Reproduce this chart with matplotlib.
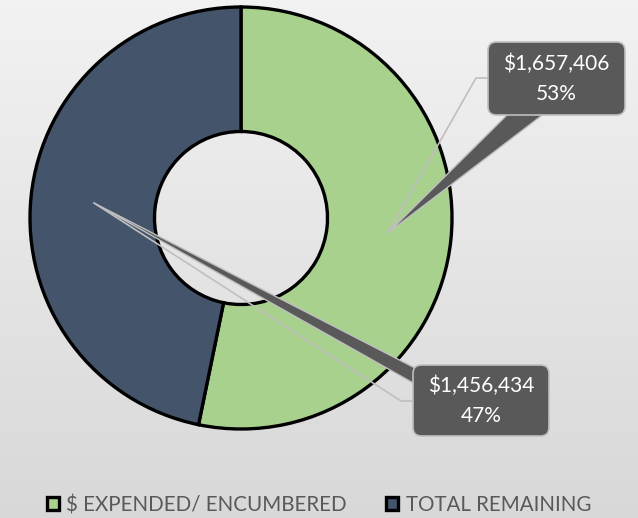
import numpy as np
import matplotlib
matplotlib.use("Agg")
import matplotlib.pyplot as plt
from matplotlib.patches import FancyBboxPatch, Polygon

plt.rcParams['font.family'] = ['Lato', 'DejaVu Sans']

# data
labels = ["$ EXPENDED/ ENCUMBERED", "TOTAL REMAINING"]
amounts = [1657406, 1456434]
colors = ["#A9D18E", "#44546A"]

W, H = 638, 518
fig = plt.figure(figsize=(W / 100, H / 100), dpi=100)

# gradient background
bg = fig.add_axes([0, 0, 1, 1], zorder=-10)
grad = np.linspace(0, 1, 256).reshape(-1, 1)
bg.imshow(grad, aspect='auto', cmap=matplotlib.colors.LinearSegmentedColormap.from_list(
    "bg", ["#F2F2F2", "#D8D8D8"]), extent=[0, 1, 0, 1], origin='upper')
bg.axis('off')

# donut, center (241, 218) px, radius 211 px
cx, cy, R = 241, 218, 211
ax = fig.add_axes([(cx - R) / W, (H - cy - R) / H, 2 * R / W, 2 * R / H])
wedges, _ = ax.pie(amounts, colors=colors, startangle=90, counterclock=False,
                   wedgeprops=dict(width=0.59, edgecolor='black', linewidth=2.4))
ax.set_xlim(-1, 1)
ax.set_ylim(-1, 1)
ax.set_aspect('equal')
ax.axis('off')


def px(x, y):
    # figure pixel (from top-left) -> pie data coords
    return ((x - cx) / R, (cy - y) / R)


total = sum(amounts)
fracs = [a / total for a in amounts]
start = 90.0
tips = []
for f in fracs:
    mid = np.deg2rad(start - f * 360 / 2)
    tips.append((0.7 * np.cos(mid), 0.7 * np.sin(mid)))
    start -= f * 360

box_fc, box_ec = "#595959", "#BFBFBF"

# callout 1 (green)
b1 = (488, 42, 625, 115)
t = tips[0]
ax.plot([t[0], px(476, 78)[0], px(488, 78)[0]], [t[1], px(476, 78)[1], px(488, 78)[1]],
        color="#BFBFBF", lw=1.2, clip_on=False, zorder=3)
ax.add_patch(Polygon([t, px(509, 113), px(545, 113)], closed=True, fc=box_fc,
                     ec=box_ec, lw=1, clip_on=False, zorder=4))
# callout 2 (slate)
b2 = (413, 365, 549, 436)
t = tips[1]
ax.plot([t[0], px(401, 401)[0], px(413, 401)[0]], [t[1], px(401, 401)[1], px(413, 401)[1]],
        color="#BFBFBF", lw=1.2, clip_on=False, zorder=3)
ax.add_patch(Polygon([t, px(415, 368), px(415, 384)], closed=True, fc=box_fc,
                     ec=box_ec, lw=1, clip_on=False, zorder=4))

for b, amt, f in [(b1, amounts[0], fracs[0]), (b2, amounts[1], fracs[1])]:
    x0, y0 = px(b[0], b[3])
    x1, y1 = px(b[2], b[1])
    ax.add_patch(FancyBboxPatch((x0, y0), x1 - x0, y1 - y0,
                                boxstyle="round,pad=0,rounding_size=0.04",
                                fc=box_fc, ec=box_ec, lw=1.2, clip_on=False, zorder=5))
    ax.text((x0 + x1) / 2, (y0 + y1) / 2, f"${amt:,}\n{f:.0%}", color='white',
            fontsize=15, ha='center', va='center', linespacing=1.6, zorder=6)

fig.legend(wedges, labels, loc='center', bbox_to_anchor=(0.5, (H - 505) / H), ncol=2,
           frameon=False, fontsize=14.8, labelcolor="#595959", handlelength=0.6,
           handleheight=0.6, handletextpad=0.35, columnspacing=1.9)

fig.savefig("out.png", dpi=100)
